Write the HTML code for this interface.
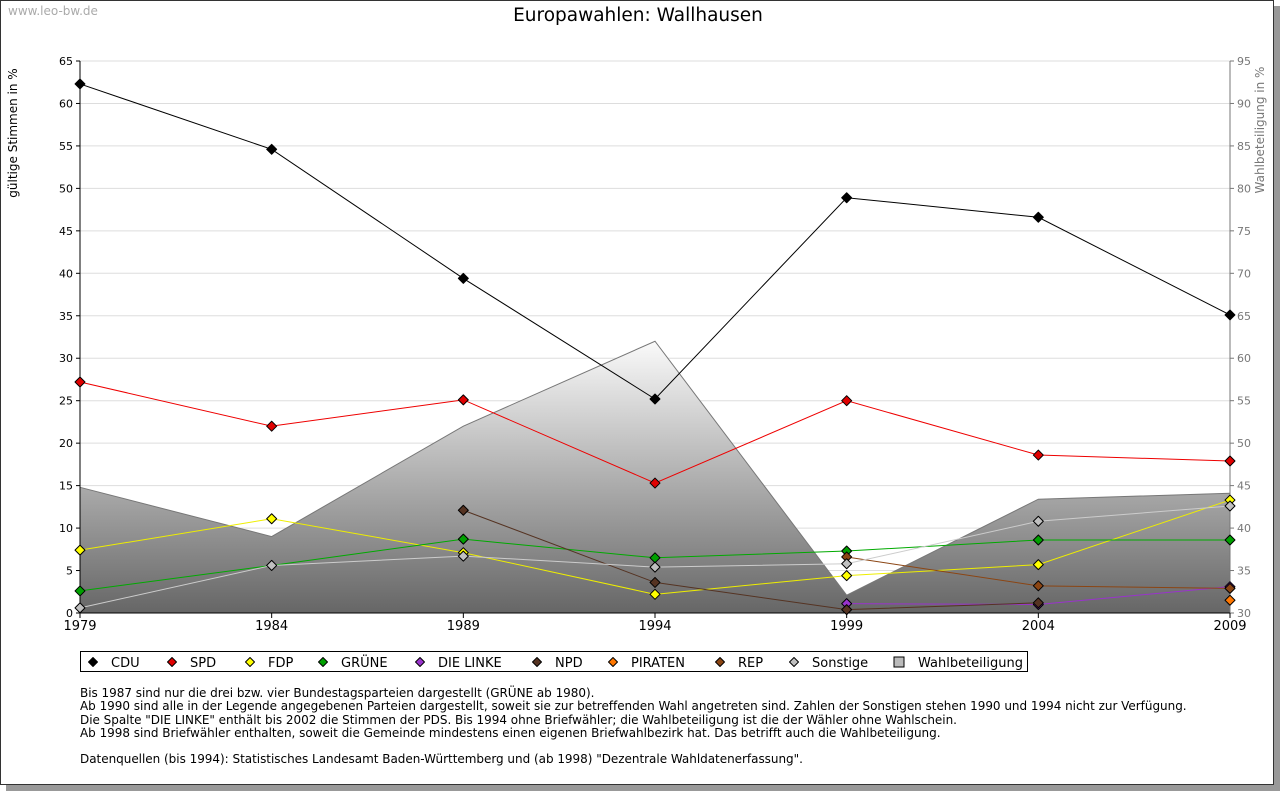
<!DOCTYPE html>
<html><head><meta charset="utf-8"><style>
body{margin:0;background:#fff;font-family:"DejaVu Sans","Liberation Sans",sans-serif}
#frame{position:absolute;left:0;top:0;width:1272px;height:783px;border:1px solid #333;box-shadow:6px 6px 0 #999;background:#fff}
svg{position:absolute;left:0;top:0}
.note{position:absolute;left:80px;top:687px;font-size:12px;letter-spacing:-0.026px;line-height:13.3px;color:#000;white-space:pre}
</style></head><body>
<div id="frame"></div>
<svg id="chart" width="1280" height="791"></svg>
<div class="note">Bis 1987 sind nur die drei bzw. vier Bundestagsparteien dargestellt (GRÜNE ab 1980).
Ab 1990 sind alle in der Legende angegebenen Parteien dargestellt, soweit sie zur betreffenden Wahl angetreten sind. Zahlen der Sonstigen stehen 1990 und 1994 nicht zur Verfügung.
Die Spalte "DIE LINKE" enthält bis 2002 die Stimmen der PDS. Bis 1994 ohne Briefwähler; die Wahlbeteiligung ist die der Wähler ohne Wahlschein.
Ab 1998 sind Briefwähler enthalten, soweit die Gemeinde mindestens einen eigenen Briefwahlbezirk hat. Das betrifft auch die Wahlbeteiligung.

Datenquellen (bis 1994): Statistisches Landesamt Baden-Württemberg und (ab 1998) "Dezentrale Wahldatenerfassung".</div>
<script>
const years=[1979,1984,1989,1994,1999,2004,2009];
const leftTicks=[0,5,10,15,20,25,30,35,40,45,50,55,60,65];
const rightTicks=[30,35,40,45,50,55,60,65,70,75,80,85,90,95];
const turnout=[44.8,39.0,52.0,62.0,32.1,43.4,44.1];
const cdu=[62.3,54.6,39.4,25.2,48.9,46.6,35.1];
const spd=[27.2,22.0,25.1,15.3,25.0,18.6,17.9];
const fdp=[7.4,11.1,7.1,2.2,4.4,5.7,13.3];
const gruene=[2.6,5.6,8.7,6.5,7.3,8.6,8.6];
const linke=[null,null,null,null,1.1,1.0,3.1];
const npd=[null,null,12.1,3.6,0.4,1.2,null];
const piraten=[null,null,null,null,null,null,1.5];
const rep=[null,null,null,null,6.6,3.2,2.9];
const sonstige=[0.6,5.6,6.7,5.4,5.8,10.8,12.6];
const series=[["CDU",cdu,"#000","#000"],["SPD",spd,"#e00000","#e00"],["FDP",fdp,"#ffff00","#ee0"],["GRÜNE",gruene,"#00a000","#0a0"],["DIE LINKE",linke,"#9933cc","#93c"],["NPD",npd,"#553322","#553322"],["PIRATEN",piraten,"#ff7700","#f70"],["REP",rep,"#8b4513","#8b4513"],["Sonstige",sonstige,"#c0c0c0","#ccc"]];
const X0=80,X1=1230,Y0=613,Y1=61;
const x=y=>X0+(y-1979)/30*(X1-X0);
const yl=v=>Y0-v/65*(Y0-Y1);
const yr=v=>Y0-(v-30)/65*(Y0-Y1);
const svg=document.getElementById('chart');
const NS='http://www.w3.org/2000/svg';
function el(t,a,p){const e=document.createElementNS(NS,t);for(const k in a)e.setAttribute(k,a[k]);(p||svg).appendChild(e);return e;}
function txt(s,a){const e=el('text',a);e.textContent=s;return e;}
const defs=el('defs',{});
const g=el('linearGradient',{id:'ag',x1:0,y1:yr(62),x2:0,y2:Y0,gradientUnits:'userSpaceOnUse'},defs);
el('stop',{offset:0,'stop-color':'#fafafa'},g);el('stop',{offset:1,'stop-color':'#666'},g);
let t=txt('www.leo-bw.de',{x:8,y:15,'font-size':12,fill:'#aaa'});


t=txt('Europawahlen: Wallhausen',{x:638,y:21,'font-size':18.5,'text-anchor':'middle'});


leftTicks.forEach(v=>{if(v>0){const l=el('line',{x1:X0,x2:X1,y1:yl(v),y2:yl(v),stroke:'#ddd'});}
 const tk=txt(v,{x:X0-7,y:yl(v)+4,'font-size':11,'text-anchor':'end'});
 el('line',{x1:X0-4,x2:X0,y1:yl(v),y2:yl(v),stroke:'#000'});});
rightTicks.forEach(v=>{const tk=txt(v,{x:X1+7,y:yr(v)+4,'font-size':11,fill:'#777'});
 el('line',{x1:X1,x2:X1+4,y1:yr(v),y2:yr(v),stroke:'#777'});});
let d='M'+x(years[0])+','+Y0;years.forEach((yy,i)=>d+=' L'+x(yy)+','+yr(turnout[i]));d+=' L'+x(years[6])+','+Y0+'Z';
let a=el('path',{d:d,fill:'url(#ag)',stroke:'none'});


let d2='M'+years.map((yy,i)=>x(yy)+','+yr(turnout[i])).join(' L');
el('path',{d:d2,fill:'none',stroke:'#777','stroke-width':1});
el('line',{x1:X0,x2:X0,y1:Y1,y2:Y0,stroke:'#000'});
el('line',{x1:X1,x2:X1,y1:Y1,y2:Y0,stroke:'#777'});
el('line',{x1:X0,x2:X1,y1:Y0,y2:Y0,stroke:'#000'});
years.forEach(yy=>{el('line',{x1:x(yy),x2:x(yy),y1:Y0,y2:Y0+5,stroke:'#000'});
 const tk=txt(yy,{x:x(yy),y:Y0+17,'font-size':13,'text-anchor':'middle'});});
t=txt('gültige Stimmen in %',{transform:'translate(17,133) rotate(-90)','font-size':12,'text-anchor':'middle'});


t=txt('Wahlbeteiligung in %',{transform:'translate(1264,130) rotate(-90)','font-size':12,'text-anchor':'middle',fill:'#777'});


function diamond(cx,cy,f,r){return el('polygon',{points:`${cx},${cy-r} ${cx+r},${cy} ${cx},${cy+r} ${cx-r},${cy}`,fill:f,stroke:'#000','stroke-width':1,'stroke-linejoin':'round'});}
series.forEach(s=>{const vals=s[1];let pts=[];vals.forEach((v,i)=>{if(v!==null)pts.push([x(years[i]),yl(v)]);});
 if(pts.length>1){const p=el('path',{d:'M'+pts.map(q=>q.join(',')).join(' L'),fill:'none',stroke:s[3],'stroke-width':1});
  
  }
 pts.forEach(q=>{const m=diamond(q[0],q[1],s[2],5);
  
  });});
const lg=el('rect',{x:80.5,y:651.5,width:947,height:20,fill:'#fff',stroke:'#000'});


const lx=[93,172,250,323,420,537,613,720,794];
series.forEach((s,i)=>{diamond(lx[i],662,s[2],4.5);
 const e=txt(s[0],{x:lx[i]+18,y:667,'font-size':13});
 
 });
el('rect',{x:894,y:657,width:10,height:10,fill:'#bbb',stroke:'#000'});
t=txt('Wahlbeteiligung',{x:918,y:667,'font-size':13});


</script>
</body></html>
